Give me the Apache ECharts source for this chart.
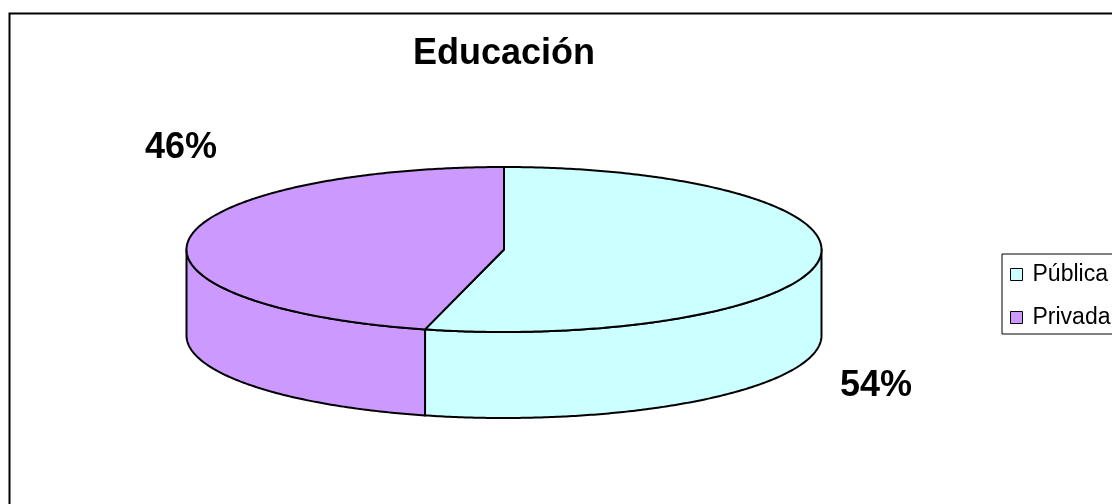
<!DOCTYPE html>
<html>
<head>
<meta charset="utf-8">
<script src="https://cdn.jsdelivr.net/npm/echarts@6/dist/echarts.min.js"></script>
<style>
html,body{margin:0;padding:0;background:#fff;}
#chart{width:1112px;height:504px;}
</style>
</head>
<body>
<div id="chart"></div>
<script>
// ---- data ----
const titleText = 'Educación';
const categories = ['Pública', 'Privada'];
const values = [54, 46];
const colors = ['#CCFFFF', '#CC99FF'];

// ---- style / layout config ----
const FONT = '"Liberation Sans", Arial, sans-serif';
const CX = 504, CY = 249.5, RX = 317.5, RY = 82.5, DEPTH = 86;
const labelPos = [[876, 386], [181, 148]];

const total = values.reduce((a, b) => a + b, 0);
const starts = [];
let acc = 0;
values.forEach(v => { starts.push(acc); acc += v; });

function pt(t, dy) { return [CX + RX * Math.sin(t), CY - RY * Math.cos(t) + (dy || 0)]; }
function arcPts(a0, a1, dy) {
  const n = Math.max(2, Math.ceil(Math.abs(a1 - a0) / 0.01));
  const p = [];
  for (let i = 0; i <= n; i++) p.push(pt(a0 + (a1 - a0) * i / n, dy));
  return p;
}

function renderSlice(params, api) {
  const i = params.seriesIndex;
  const v = api.value(0);
  const a0 = starts[i] / total * Math.PI * 2;
  const a1 = (starts[i] + v) / total * Math.PI * 2;
  const children = [];
  const lineStyle = { stroke: '#000', lineWidth: 2, lineJoin: 'round' };
  // side face (front half only)
  const s0 = Math.max(a0, Math.PI / 2), s1 = Math.min(a1, Math.PI * 1.5);
  if (s0 < s1) {
    const top = arcPts(s0, s1, 0);
    const bot = arcPts(s0, s1, DEPTH).reverse();
    children.push({
      type: 'polygon', z2: 1,
      shape: { points: top.concat(bot) },
      style: Object.assign({ fill: colors[i] }, lineStyle)
    });
  }
  // top face
  children.push({
    type: 'polygon', z2: 2,
    shape: { points: [[CX, CY]].concat(arcPts(a0, a1, 0)) },
    style: Object.assign({ fill: colors[i] }, lineStyle)
  });
  // label
  const pct = Math.round(v / total * 100) + '%';
  children.push({
    type: 'text', z2: 3,
    x: labelPos[i][0], y: labelPos[i][1],
    style: { text: pct, fill: '#000', font: 'bold 36px ' + FONT, align: 'center', verticalAlign: 'middle' }
  });
  return { type: 'group', children: children };
}

const chart = echarts.init(document.getElementById('chart'), null, { renderer: 'canvas' });
chart.setOption({
  backgroundColor: '#fff',
  animation: false,
  title: {
    text: titleText,
    left: 499, top: 31,
    textAlign: 'center',
    textStyle: { fontSize: 36, fontWeight: 'bold', fontFamily: FONT, color: '#000' }
  },
  graphic: [{
    type: 'rect', z: -1,
    shape: { x: 9.5, y: 13.5, width: 1300, height: 700 },
    style: { fill: 'none', stroke: '#000', lineWidth: 2 }
  }],
  legend: {
    orient: 'vertical',
    left: 1002, top: 254,
    padding: [9, 14, 5, 8],
    itemWidth: 12, itemHeight: 12, itemGap: 20,
    icon: 'rect',
    borderColor: '#000', borderWidth: 1,
    backgroundColor: '#fff',
    itemStyle: { borderColor: '#000', borderWidth: 1 },
    textStyle: { fontSize: 23, fontFamily: FONT, color: '#000', lineHeight: 23, padding: [0, 0, 0, 5] },
    data: categories
  },
  series: categories.map((name, i) => ({
    type: 'custom',
    name: name,
    coordinateSystem: 'none',
    itemStyle: { color: colors[i] },
    renderItem: renderSlice,
    data: [[values[i]]]
  }))
});
</script>
</body>
</html>
